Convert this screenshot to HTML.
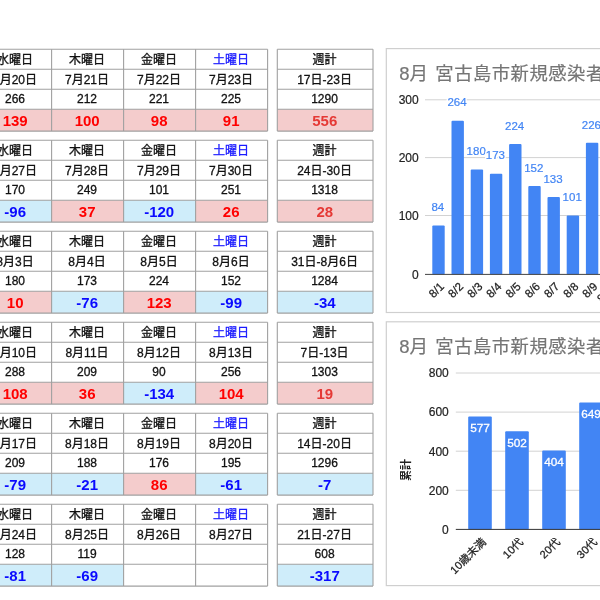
<!DOCTYPE html>
<html lang="ja"><head><meta charset="utf-8"><title>宮古島市 新規感染者</title>
<style>
html,body{margin:0;padding:0;background:#fff;}
body{width:600px;height:600px;overflow:hidden;position:relative;}
svg{filter:blur(0.3px);position:absolute;left:0;top:0;display:block;font-family:"Liberation Sans","Noto Sans CJK JP",sans-serif;}
</style></head><body>
<svg width="600" height="600" viewBox="0 0 600 600">
<rect x="-20.40" y="109.30" width="72.00" height="21.80" fill="#f4cccc"/>
<rect x="51.60" y="109.30" width="72.00" height="21.80" fill="#f4cccc"/>
<rect x="123.60" y="109.30" width="72.00" height="21.80" fill="#f4cccc"/>
<rect x="195.60" y="109.30" width="72.00" height="21.80" fill="#f4cccc"/>
<rect x="277.30" y="109.30" width="95.70" height="21.80" fill="#f4cccc"/>
<line x1="-20.40" y1="49.30" x2="267.60" y2="49.30" stroke="#a0a0a0" stroke-width="1.1"/>
<line x1="-20.40" y1="69.30" x2="267.60" y2="69.30" stroke="#a0a0a0" stroke-width="1.1"/>
<line x1="-20.40" y1="89.30" x2="267.60" y2="89.30" stroke="#a0a0a0" stroke-width="1.1"/>
<line x1="-20.40" y1="109.30" x2="267.60" y2="109.30" stroke="#a0a0a0" stroke-width="1.1"/>
<line x1="-20.40" y1="131.10" x2="267.60" y2="131.10" stroke="#a0a0a0" stroke-width="1.1"/>
<line x1="-20.40" y1="49.30" x2="-20.40" y2="131.10" stroke="#a0a0a0" stroke-width="1.1"/>
<line x1="51.60" y1="49.30" x2="51.60" y2="131.10" stroke="#a0a0a0" stroke-width="1.1"/>
<line x1="123.60" y1="49.30" x2="123.60" y2="131.10" stroke="#a0a0a0" stroke-width="1.1"/>
<line x1="195.60" y1="49.30" x2="195.60" y2="131.10" stroke="#a0a0a0" stroke-width="1.1"/>
<line x1="267.60" y1="49.30" x2="267.60" y2="131.10" stroke="#a0a0a0" stroke-width="1.1"/>
<line x1="277.30" y1="49.30" x2="373.00" y2="49.30" stroke="#a0a0a0" stroke-width="1.1"/>
<line x1="277.30" y1="69.30" x2="373.00" y2="69.30" stroke="#a0a0a0" stroke-width="1.1"/>
<line x1="277.30" y1="89.30" x2="373.00" y2="89.30" stroke="#a0a0a0" stroke-width="1.1"/>
<line x1="277.30" y1="109.30" x2="373.00" y2="109.30" stroke="#a0a0a0" stroke-width="1.1"/>
<line x1="277.30" y1="131.10" x2="373.00" y2="131.10" stroke="#a0a0a0" stroke-width="1.1"/>
<line x1="277.30" y1="49.30" x2="277.30" y2="131.10" stroke="#a0a0a0" stroke-width="1.1"/>
<line x1="373.00" y1="49.30" x2="373.00" y2="131.10" stroke="#a0a0a0" stroke-width="1.1"/>
<text x="15.00" y="63.90" font-size="12" fill="#111" stroke="#111" stroke-width="0.3" text-anchor="middle">水曜日</text>
<text x="15.00" y="83.80" font-size="12" fill="#111" stroke="#111" stroke-width="0.3" text-anchor="middle">7月20日</text>
<text x="15.00" y="103.40" font-size="12" fill="#111" stroke="#111" stroke-width="0.3" text-anchor="middle">266</text>
<text x="15.20" y="125.90" font-size="15" fill="#ff0000" font-weight="bold" text-anchor="middle">139</text>
<text x="87.00" y="63.90" font-size="12" fill="#111" stroke="#111" stroke-width="0.3" text-anchor="middle">木曜日</text>
<text x="87.00" y="83.80" font-size="12" fill="#111" stroke="#111" stroke-width="0.3" text-anchor="middle">7月21日</text>
<text x="87.00" y="103.40" font-size="12" fill="#111" stroke="#111" stroke-width="0.3" text-anchor="middle">212</text>
<text x="87.20" y="125.90" font-size="15" fill="#ff0000" font-weight="bold" text-anchor="middle">100</text>
<text x="159.00" y="63.90" font-size="12" fill="#111" stroke="#111" stroke-width="0.3" text-anchor="middle">金曜日</text>
<text x="159.00" y="83.80" font-size="12" fill="#111" stroke="#111" stroke-width="0.3" text-anchor="middle">7月22日</text>
<text x="159.00" y="103.40" font-size="12" fill="#111" stroke="#111" stroke-width="0.3" text-anchor="middle">221</text>
<text x="159.20" y="125.90" font-size="15" fill="#ff0000" font-weight="bold" text-anchor="middle">98</text>
<text x="231.00" y="63.90" font-size="12" fill="#1a1aff" stroke="#1a1aff" stroke-width="0.3" text-anchor="middle">土曜日</text>
<text x="231.00" y="83.80" font-size="12" fill="#111" stroke="#111" stroke-width="0.3" text-anchor="middle">7月23日</text>
<text x="231.00" y="103.40" font-size="12" fill="#111" stroke="#111" stroke-width="0.3" text-anchor="middle">225</text>
<text x="231.20" y="125.90" font-size="15" fill="#ff0000" font-weight="bold" text-anchor="middle">91</text>
<text x="324.55" y="63.90" font-size="12" fill="#111" stroke="#111" stroke-width="0.3" text-anchor="middle">週計</text>
<text x="324.55" y="83.80" font-size="12" fill="#111" stroke="#111" stroke-width="0.3" text-anchor="middle">17日-23日</text>
<text x="324.55" y="103.40" font-size="12" fill="#111" stroke="#111" stroke-width="0.3" text-anchor="middle">1290</text>
<text x="324.75" y="125.90" font-size="15" fill="#e53935" font-weight="bold" text-anchor="middle">556</text>
<rect x="-20.40" y="200.30" width="72.00" height="21.80" fill="#cfedfa"/>
<rect x="51.60" y="200.30" width="72.00" height="21.80" fill="#f4cccc"/>
<rect x="123.60" y="200.30" width="72.00" height="21.80" fill="#cfedfa"/>
<rect x="195.60" y="200.30" width="72.00" height="21.80" fill="#f4cccc"/>
<rect x="277.30" y="200.30" width="95.70" height="21.80" fill="#f4cccc"/>
<line x1="-20.40" y1="140.30" x2="267.60" y2="140.30" stroke="#a0a0a0" stroke-width="1.1"/>
<line x1="-20.40" y1="160.30" x2="267.60" y2="160.30" stroke="#a0a0a0" stroke-width="1.1"/>
<line x1="-20.40" y1="180.30" x2="267.60" y2="180.30" stroke="#a0a0a0" stroke-width="1.1"/>
<line x1="-20.40" y1="200.30" x2="267.60" y2="200.30" stroke="#a0a0a0" stroke-width="1.1"/>
<line x1="-20.40" y1="222.10" x2="267.60" y2="222.10" stroke="#a0a0a0" stroke-width="1.1"/>
<line x1="-20.40" y1="140.30" x2="-20.40" y2="222.10" stroke="#a0a0a0" stroke-width="1.1"/>
<line x1="51.60" y1="140.30" x2="51.60" y2="222.10" stroke="#a0a0a0" stroke-width="1.1"/>
<line x1="123.60" y1="140.30" x2="123.60" y2="222.10" stroke="#a0a0a0" stroke-width="1.1"/>
<line x1="195.60" y1="140.30" x2="195.60" y2="222.10" stroke="#a0a0a0" stroke-width="1.1"/>
<line x1="267.60" y1="140.30" x2="267.60" y2="222.10" stroke="#a0a0a0" stroke-width="1.1"/>
<line x1="277.30" y1="140.30" x2="373.00" y2="140.30" stroke="#a0a0a0" stroke-width="1.1"/>
<line x1="277.30" y1="160.30" x2="373.00" y2="160.30" stroke="#a0a0a0" stroke-width="1.1"/>
<line x1="277.30" y1="180.30" x2="373.00" y2="180.30" stroke="#a0a0a0" stroke-width="1.1"/>
<line x1="277.30" y1="200.30" x2="373.00" y2="200.30" stroke="#a0a0a0" stroke-width="1.1"/>
<line x1="277.30" y1="222.10" x2="373.00" y2="222.10" stroke="#a0a0a0" stroke-width="1.1"/>
<line x1="277.30" y1="140.30" x2="277.30" y2="222.10" stroke="#a0a0a0" stroke-width="1.1"/>
<line x1="373.00" y1="140.30" x2="373.00" y2="222.10" stroke="#a0a0a0" stroke-width="1.1"/>
<text x="15.00" y="154.90" font-size="12" fill="#111" stroke="#111" stroke-width="0.3" text-anchor="middle">水曜日</text>
<text x="15.00" y="174.80" font-size="12" fill="#111" stroke="#111" stroke-width="0.3" text-anchor="middle">7月27日</text>
<text x="15.00" y="194.40" font-size="12" fill="#111" stroke="#111" stroke-width="0.3" text-anchor="middle">170</text>
<text x="15.20" y="216.90" font-size="15" fill="#0a0aff" font-weight="bold" text-anchor="middle">-96</text>
<text x="87.00" y="154.90" font-size="12" fill="#111" stroke="#111" stroke-width="0.3" text-anchor="middle">木曜日</text>
<text x="87.00" y="174.80" font-size="12" fill="#111" stroke="#111" stroke-width="0.3" text-anchor="middle">7月28日</text>
<text x="87.00" y="194.40" font-size="12" fill="#111" stroke="#111" stroke-width="0.3" text-anchor="middle">249</text>
<text x="87.20" y="216.90" font-size="15" fill="#ff0000" font-weight="bold" text-anchor="middle">37</text>
<text x="159.00" y="154.90" font-size="12" fill="#111" stroke="#111" stroke-width="0.3" text-anchor="middle">金曜日</text>
<text x="159.00" y="174.80" font-size="12" fill="#111" stroke="#111" stroke-width="0.3" text-anchor="middle">7月29日</text>
<text x="159.00" y="194.40" font-size="12" fill="#111" stroke="#111" stroke-width="0.3" text-anchor="middle">101</text>
<text x="159.20" y="216.90" font-size="15" fill="#0a0aff" font-weight="bold" text-anchor="middle">-120</text>
<text x="231.00" y="154.90" font-size="12" fill="#1a1aff" stroke="#1a1aff" stroke-width="0.3" text-anchor="middle">土曜日</text>
<text x="231.00" y="174.80" font-size="12" fill="#111" stroke="#111" stroke-width="0.3" text-anchor="middle">7月30日</text>
<text x="231.00" y="194.40" font-size="12" fill="#111" stroke="#111" stroke-width="0.3" text-anchor="middle">251</text>
<text x="231.20" y="216.90" font-size="15" fill="#ff0000" font-weight="bold" text-anchor="middle">26</text>
<text x="324.55" y="154.90" font-size="12" fill="#111" stroke="#111" stroke-width="0.3" text-anchor="middle">週計</text>
<text x="324.55" y="174.80" font-size="12" fill="#111" stroke="#111" stroke-width="0.3" text-anchor="middle">24日-30日</text>
<text x="324.55" y="194.40" font-size="12" fill="#111" stroke="#111" stroke-width="0.3" text-anchor="middle">1318</text>
<text x="324.75" y="216.90" font-size="15" fill="#e53935" font-weight="bold" text-anchor="middle">28</text>
<rect x="-20.40" y="291.30" width="72.00" height="21.80" fill="#f4cccc"/>
<rect x="51.60" y="291.30" width="72.00" height="21.80" fill="#cfedfa"/>
<rect x="123.60" y="291.30" width="72.00" height="21.80" fill="#f4cccc"/>
<rect x="195.60" y="291.30" width="72.00" height="21.80" fill="#cfedfa"/>
<rect x="277.30" y="291.30" width="95.70" height="21.80" fill="#cfedfa"/>
<line x1="-20.40" y1="231.30" x2="267.60" y2="231.30" stroke="#a0a0a0" stroke-width="1.1"/>
<line x1="-20.40" y1="251.30" x2="267.60" y2="251.30" stroke="#a0a0a0" stroke-width="1.1"/>
<line x1="-20.40" y1="271.30" x2="267.60" y2="271.30" stroke="#a0a0a0" stroke-width="1.1"/>
<line x1="-20.40" y1="291.30" x2="267.60" y2="291.30" stroke="#a0a0a0" stroke-width="1.1"/>
<line x1="-20.40" y1="313.10" x2="267.60" y2="313.10" stroke="#a0a0a0" stroke-width="1.1"/>
<line x1="-20.40" y1="231.30" x2="-20.40" y2="313.10" stroke="#a0a0a0" stroke-width="1.1"/>
<line x1="51.60" y1="231.30" x2="51.60" y2="313.10" stroke="#a0a0a0" stroke-width="1.1"/>
<line x1="123.60" y1="231.30" x2="123.60" y2="313.10" stroke="#a0a0a0" stroke-width="1.1"/>
<line x1="195.60" y1="231.30" x2="195.60" y2="313.10" stroke="#a0a0a0" stroke-width="1.1"/>
<line x1="267.60" y1="231.30" x2="267.60" y2="313.10" stroke="#a0a0a0" stroke-width="1.1"/>
<line x1="277.30" y1="231.30" x2="373.00" y2="231.30" stroke="#a0a0a0" stroke-width="1.1"/>
<line x1="277.30" y1="251.30" x2="373.00" y2="251.30" stroke="#a0a0a0" stroke-width="1.1"/>
<line x1="277.30" y1="271.30" x2="373.00" y2="271.30" stroke="#a0a0a0" stroke-width="1.1"/>
<line x1="277.30" y1="291.30" x2="373.00" y2="291.30" stroke="#a0a0a0" stroke-width="1.1"/>
<line x1="277.30" y1="313.10" x2="373.00" y2="313.10" stroke="#a0a0a0" stroke-width="1.1"/>
<line x1="277.30" y1="231.30" x2="277.30" y2="313.10" stroke="#a0a0a0" stroke-width="1.1"/>
<line x1="373.00" y1="231.30" x2="373.00" y2="313.10" stroke="#a0a0a0" stroke-width="1.1"/>
<text x="15.00" y="245.90" font-size="12" fill="#111" stroke="#111" stroke-width="0.3" text-anchor="middle">水曜日</text>
<text x="15.00" y="265.80" font-size="12" fill="#111" stroke="#111" stroke-width="0.3" text-anchor="middle">8月3日</text>
<text x="15.00" y="285.40" font-size="12" fill="#111" stroke="#111" stroke-width="0.3" text-anchor="middle">180</text>
<text x="15.20" y="307.90" font-size="15" fill="#ff0000" font-weight="bold" text-anchor="middle">10</text>
<text x="87.00" y="245.90" font-size="12" fill="#111" stroke="#111" stroke-width="0.3" text-anchor="middle">木曜日</text>
<text x="87.00" y="265.80" font-size="12" fill="#111" stroke="#111" stroke-width="0.3" text-anchor="middle">8月4日</text>
<text x="87.00" y="285.40" font-size="12" fill="#111" stroke="#111" stroke-width="0.3" text-anchor="middle">173</text>
<text x="87.20" y="307.90" font-size="15" fill="#0a0aff" font-weight="bold" text-anchor="middle">-76</text>
<text x="159.00" y="245.90" font-size="12" fill="#111" stroke="#111" stroke-width="0.3" text-anchor="middle">金曜日</text>
<text x="159.00" y="265.80" font-size="12" fill="#111" stroke="#111" stroke-width="0.3" text-anchor="middle">8月5日</text>
<text x="159.00" y="285.40" font-size="12" fill="#111" stroke="#111" stroke-width="0.3" text-anchor="middle">224</text>
<text x="159.20" y="307.90" font-size="15" fill="#ff0000" font-weight="bold" text-anchor="middle">123</text>
<text x="231.00" y="245.90" font-size="12" fill="#1a1aff" stroke="#1a1aff" stroke-width="0.3" text-anchor="middle">土曜日</text>
<text x="231.00" y="265.80" font-size="12" fill="#111" stroke="#111" stroke-width="0.3" text-anchor="middle">8月6日</text>
<text x="231.00" y="285.40" font-size="12" fill="#111" stroke="#111" stroke-width="0.3" text-anchor="middle">152</text>
<text x="231.20" y="307.90" font-size="15" fill="#0a0aff" font-weight="bold" text-anchor="middle">-99</text>
<text x="324.55" y="245.90" font-size="12" fill="#111" stroke="#111" stroke-width="0.3" text-anchor="middle">週計</text>
<text x="324.55" y="265.80" font-size="12" fill="#111" stroke="#111" stroke-width="0.3" text-anchor="middle">31日-8月6日</text>
<text x="324.55" y="285.40" font-size="12" fill="#111" stroke="#111" stroke-width="0.3" text-anchor="middle">1284</text>
<text x="324.75" y="307.90" font-size="15" fill="#0a0aff" font-weight="bold" text-anchor="middle">-34</text>
<rect x="-20.40" y="382.30" width="72.00" height="21.80" fill="#f4cccc"/>
<rect x="51.60" y="382.30" width="72.00" height="21.80" fill="#f4cccc"/>
<rect x="123.60" y="382.30" width="72.00" height="21.80" fill="#cfedfa"/>
<rect x="195.60" y="382.30" width="72.00" height="21.80" fill="#f4cccc"/>
<rect x="277.30" y="382.30" width="95.70" height="21.80" fill="#f4cccc"/>
<line x1="-20.40" y1="322.30" x2="267.60" y2="322.30" stroke="#a0a0a0" stroke-width="1.1"/>
<line x1="-20.40" y1="342.30" x2="267.60" y2="342.30" stroke="#a0a0a0" stroke-width="1.1"/>
<line x1="-20.40" y1="362.30" x2="267.60" y2="362.30" stroke="#a0a0a0" stroke-width="1.1"/>
<line x1="-20.40" y1="382.30" x2="267.60" y2="382.30" stroke="#a0a0a0" stroke-width="1.1"/>
<line x1="-20.40" y1="404.10" x2="267.60" y2="404.10" stroke="#a0a0a0" stroke-width="1.1"/>
<line x1="-20.40" y1="322.30" x2="-20.40" y2="404.10" stroke="#a0a0a0" stroke-width="1.1"/>
<line x1="51.60" y1="322.30" x2="51.60" y2="404.10" stroke="#a0a0a0" stroke-width="1.1"/>
<line x1="123.60" y1="322.30" x2="123.60" y2="404.10" stroke="#a0a0a0" stroke-width="1.1"/>
<line x1="195.60" y1="322.30" x2="195.60" y2="404.10" stroke="#a0a0a0" stroke-width="1.1"/>
<line x1="267.60" y1="322.30" x2="267.60" y2="404.10" stroke="#a0a0a0" stroke-width="1.1"/>
<line x1="277.30" y1="322.30" x2="373.00" y2="322.30" stroke="#a0a0a0" stroke-width="1.1"/>
<line x1="277.30" y1="342.30" x2="373.00" y2="342.30" stroke="#a0a0a0" stroke-width="1.1"/>
<line x1="277.30" y1="362.30" x2="373.00" y2="362.30" stroke="#a0a0a0" stroke-width="1.1"/>
<line x1="277.30" y1="382.30" x2="373.00" y2="382.30" stroke="#a0a0a0" stroke-width="1.1"/>
<line x1="277.30" y1="404.10" x2="373.00" y2="404.10" stroke="#a0a0a0" stroke-width="1.1"/>
<line x1="277.30" y1="322.30" x2="277.30" y2="404.10" stroke="#a0a0a0" stroke-width="1.1"/>
<line x1="373.00" y1="322.30" x2="373.00" y2="404.10" stroke="#a0a0a0" stroke-width="1.1"/>
<text x="15.00" y="336.90" font-size="12" fill="#111" stroke="#111" stroke-width="0.3" text-anchor="middle">水曜日</text>
<text x="15.00" y="356.80" font-size="12" fill="#111" stroke="#111" stroke-width="0.3" text-anchor="middle">8月10日</text>
<text x="15.00" y="376.40" font-size="12" fill="#111" stroke="#111" stroke-width="0.3" text-anchor="middle">288</text>
<text x="15.20" y="398.90" font-size="15" fill="#ff0000" font-weight="bold" text-anchor="middle">108</text>
<text x="87.00" y="336.90" font-size="12" fill="#111" stroke="#111" stroke-width="0.3" text-anchor="middle">木曜日</text>
<text x="87.00" y="356.80" font-size="12" fill="#111" stroke="#111" stroke-width="0.3" text-anchor="middle">8月11日</text>
<text x="87.00" y="376.40" font-size="12" fill="#111" stroke="#111" stroke-width="0.3" text-anchor="middle">209</text>
<text x="87.20" y="398.90" font-size="15" fill="#ff0000" font-weight="bold" text-anchor="middle">36</text>
<text x="159.00" y="336.90" font-size="12" fill="#111" stroke="#111" stroke-width="0.3" text-anchor="middle">金曜日</text>
<text x="159.00" y="356.80" font-size="12" fill="#111" stroke="#111" stroke-width="0.3" text-anchor="middle">8月12日</text>
<text x="159.00" y="376.40" font-size="12" fill="#111" stroke="#111" stroke-width="0.3" text-anchor="middle">90</text>
<text x="159.20" y="398.90" font-size="15" fill="#0a0aff" font-weight="bold" text-anchor="middle">-134</text>
<text x="231.00" y="336.90" font-size="12" fill="#1a1aff" stroke="#1a1aff" stroke-width="0.3" text-anchor="middle">土曜日</text>
<text x="231.00" y="356.80" font-size="12" fill="#111" stroke="#111" stroke-width="0.3" text-anchor="middle">8月13日</text>
<text x="231.00" y="376.40" font-size="12" fill="#111" stroke="#111" stroke-width="0.3" text-anchor="middle">256</text>
<text x="231.20" y="398.90" font-size="15" fill="#ff0000" font-weight="bold" text-anchor="middle">104</text>
<text x="324.55" y="336.90" font-size="12" fill="#111" stroke="#111" stroke-width="0.3" text-anchor="middle">週計</text>
<text x="324.55" y="356.80" font-size="12" fill="#111" stroke="#111" stroke-width="0.3" text-anchor="middle">7日-13日</text>
<text x="324.55" y="376.40" font-size="12" fill="#111" stroke="#111" stroke-width="0.3" text-anchor="middle">1303</text>
<text x="324.75" y="398.90" font-size="15" fill="#e53935" font-weight="bold" text-anchor="middle">19</text>
<rect x="-20.40" y="473.30" width="72.00" height="21.80" fill="#cfedfa"/>
<rect x="51.60" y="473.30" width="72.00" height="21.80" fill="#cfedfa"/>
<rect x="123.60" y="473.30" width="72.00" height="21.80" fill="#f4cccc"/>
<rect x="195.60" y="473.30" width="72.00" height="21.80" fill="#cfedfa"/>
<rect x="277.30" y="473.30" width="95.70" height="21.80" fill="#cfedfa"/>
<line x1="-20.40" y1="413.30" x2="267.60" y2="413.30" stroke="#a0a0a0" stroke-width="1.1"/>
<line x1="-20.40" y1="433.30" x2="267.60" y2="433.30" stroke="#a0a0a0" stroke-width="1.1"/>
<line x1="-20.40" y1="453.30" x2="267.60" y2="453.30" stroke="#a0a0a0" stroke-width="1.1"/>
<line x1="-20.40" y1="473.30" x2="267.60" y2="473.30" stroke="#a0a0a0" stroke-width="1.1"/>
<line x1="-20.40" y1="495.10" x2="267.60" y2="495.10" stroke="#a0a0a0" stroke-width="1.1"/>
<line x1="-20.40" y1="413.30" x2="-20.40" y2="495.10" stroke="#a0a0a0" stroke-width="1.1"/>
<line x1="51.60" y1="413.30" x2="51.60" y2="495.10" stroke="#a0a0a0" stroke-width="1.1"/>
<line x1="123.60" y1="413.30" x2="123.60" y2="495.10" stroke="#a0a0a0" stroke-width="1.1"/>
<line x1="195.60" y1="413.30" x2="195.60" y2="495.10" stroke="#a0a0a0" stroke-width="1.1"/>
<line x1="267.60" y1="413.30" x2="267.60" y2="495.10" stroke="#a0a0a0" stroke-width="1.1"/>
<line x1="277.30" y1="413.30" x2="373.00" y2="413.30" stroke="#a0a0a0" stroke-width="1.1"/>
<line x1="277.30" y1="433.30" x2="373.00" y2="433.30" stroke="#a0a0a0" stroke-width="1.1"/>
<line x1="277.30" y1="453.30" x2="373.00" y2="453.30" stroke="#a0a0a0" stroke-width="1.1"/>
<line x1="277.30" y1="473.30" x2="373.00" y2="473.30" stroke="#a0a0a0" stroke-width="1.1"/>
<line x1="277.30" y1="495.10" x2="373.00" y2="495.10" stroke="#a0a0a0" stroke-width="1.1"/>
<line x1="277.30" y1="413.30" x2="277.30" y2="495.10" stroke="#a0a0a0" stroke-width="1.1"/>
<line x1="373.00" y1="413.30" x2="373.00" y2="495.10" stroke="#a0a0a0" stroke-width="1.1"/>
<text x="15.00" y="427.90" font-size="12" fill="#111" stroke="#111" stroke-width="0.3" text-anchor="middle">水曜日</text>
<text x="15.00" y="447.80" font-size="12" fill="#111" stroke="#111" stroke-width="0.3" text-anchor="middle">8月17日</text>
<text x="15.00" y="467.40" font-size="12" fill="#111" stroke="#111" stroke-width="0.3" text-anchor="middle">209</text>
<text x="15.20" y="489.90" font-size="15" fill="#0a0aff" font-weight="bold" text-anchor="middle">-79</text>
<text x="87.00" y="427.90" font-size="12" fill="#111" stroke="#111" stroke-width="0.3" text-anchor="middle">木曜日</text>
<text x="87.00" y="447.80" font-size="12" fill="#111" stroke="#111" stroke-width="0.3" text-anchor="middle">8月18日</text>
<text x="87.00" y="467.40" font-size="12" fill="#111" stroke="#111" stroke-width="0.3" text-anchor="middle">188</text>
<text x="87.20" y="489.90" font-size="15" fill="#0a0aff" font-weight="bold" text-anchor="middle">-21</text>
<text x="159.00" y="427.90" font-size="12" fill="#111" stroke="#111" stroke-width="0.3" text-anchor="middle">金曜日</text>
<text x="159.00" y="447.80" font-size="12" fill="#111" stroke="#111" stroke-width="0.3" text-anchor="middle">8月19日</text>
<text x="159.00" y="467.40" font-size="12" fill="#111" stroke="#111" stroke-width="0.3" text-anchor="middle">176</text>
<text x="159.20" y="489.90" font-size="15" fill="#ff0000" font-weight="bold" text-anchor="middle">86</text>
<text x="231.00" y="427.90" font-size="12" fill="#1a1aff" stroke="#1a1aff" stroke-width="0.3" text-anchor="middle">土曜日</text>
<text x="231.00" y="447.80" font-size="12" fill="#111" stroke="#111" stroke-width="0.3" text-anchor="middle">8月20日</text>
<text x="231.00" y="467.40" font-size="12" fill="#111" stroke="#111" stroke-width="0.3" text-anchor="middle">195</text>
<text x="231.20" y="489.90" font-size="15" fill="#0a0aff" font-weight="bold" text-anchor="middle">-61</text>
<text x="324.55" y="427.90" font-size="12" fill="#111" stroke="#111" stroke-width="0.3" text-anchor="middle">週計</text>
<text x="324.55" y="447.80" font-size="12" fill="#111" stroke="#111" stroke-width="0.3" text-anchor="middle">14日-20日</text>
<text x="324.55" y="467.40" font-size="12" fill="#111" stroke="#111" stroke-width="0.3" text-anchor="middle">1296</text>
<text x="324.75" y="489.90" font-size="15" fill="#0a0aff" font-weight="bold" text-anchor="middle">-7</text>
<rect x="-20.40" y="564.30" width="72.00" height="21.80" fill="#cfedfa"/>
<rect x="51.60" y="564.30" width="72.00" height="21.80" fill="#cfedfa"/>
<rect x="277.30" y="564.30" width="95.70" height="21.80" fill="#cfedfa"/>
<line x1="-20.40" y1="504.30" x2="267.60" y2="504.30" stroke="#a0a0a0" stroke-width="1.1"/>
<line x1="-20.40" y1="524.30" x2="267.60" y2="524.30" stroke="#a0a0a0" stroke-width="1.1"/>
<line x1="-20.40" y1="544.30" x2="267.60" y2="544.30" stroke="#a0a0a0" stroke-width="1.1"/>
<line x1="-20.40" y1="564.30" x2="267.60" y2="564.30" stroke="#a0a0a0" stroke-width="1.1"/>
<line x1="-20.40" y1="586.10" x2="267.60" y2="586.10" stroke="#a0a0a0" stroke-width="1.1"/>
<line x1="-20.40" y1="504.30" x2="-20.40" y2="586.10" stroke="#a0a0a0" stroke-width="1.1"/>
<line x1="51.60" y1="504.30" x2="51.60" y2="586.10" stroke="#a0a0a0" stroke-width="1.1"/>
<line x1="123.60" y1="504.30" x2="123.60" y2="586.10" stroke="#a0a0a0" stroke-width="1.1"/>
<line x1="195.60" y1="504.30" x2="195.60" y2="586.10" stroke="#a0a0a0" stroke-width="1.1"/>
<line x1="267.60" y1="504.30" x2="267.60" y2="586.10" stroke="#a0a0a0" stroke-width="1.1"/>
<line x1="277.30" y1="504.30" x2="373.00" y2="504.30" stroke="#a0a0a0" stroke-width="1.1"/>
<line x1="277.30" y1="524.30" x2="373.00" y2="524.30" stroke="#a0a0a0" stroke-width="1.1"/>
<line x1="277.30" y1="544.30" x2="373.00" y2="544.30" stroke="#a0a0a0" stroke-width="1.1"/>
<line x1="277.30" y1="564.30" x2="373.00" y2="564.30" stroke="#a0a0a0" stroke-width="1.1"/>
<line x1="277.30" y1="586.10" x2="373.00" y2="586.10" stroke="#a0a0a0" stroke-width="1.1"/>
<line x1="277.30" y1="504.30" x2="277.30" y2="586.10" stroke="#a0a0a0" stroke-width="1.1"/>
<line x1="373.00" y1="504.30" x2="373.00" y2="586.10" stroke="#a0a0a0" stroke-width="1.1"/>
<text x="15.00" y="518.90" font-size="12" fill="#111" stroke="#111" stroke-width="0.3" text-anchor="middle">水曜日</text>
<text x="15.00" y="538.80" font-size="12" fill="#111" stroke="#111" stroke-width="0.3" text-anchor="middle">8月24日</text>
<text x="15.00" y="558.40" font-size="12" fill="#111" stroke="#111" stroke-width="0.3" text-anchor="middle">128</text>
<text x="15.20" y="580.90" font-size="15" fill="#0a0aff" font-weight="bold" text-anchor="middle">-81</text>
<text x="87.00" y="518.90" font-size="12" fill="#111" stroke="#111" stroke-width="0.3" text-anchor="middle">木曜日</text>
<text x="87.00" y="538.80" font-size="12" fill="#111" stroke="#111" stroke-width="0.3" text-anchor="middle">8月25日</text>
<text x="87.00" y="558.40" font-size="12" fill="#111" stroke="#111" stroke-width="0.3" text-anchor="middle">119</text>
<text x="87.20" y="580.90" font-size="15" fill="#0a0aff" font-weight="bold" text-anchor="middle">-69</text>
<text x="159.00" y="518.90" font-size="12" fill="#111" stroke="#111" stroke-width="0.3" text-anchor="middle">金曜日</text>
<text x="159.00" y="538.80" font-size="12" fill="#111" stroke="#111" stroke-width="0.3" text-anchor="middle">8月26日</text>
<text x="231.00" y="518.90" font-size="12" fill="#1a1aff" stroke="#1a1aff" stroke-width="0.3" text-anchor="middle">土曜日</text>
<text x="231.00" y="538.80" font-size="12" fill="#111" stroke="#111" stroke-width="0.3" text-anchor="middle">8月27日</text>
<text x="324.55" y="518.90" font-size="12" fill="#111" stroke="#111" stroke-width="0.3" text-anchor="middle">週計</text>
<text x="324.55" y="538.80" font-size="12" fill="#111" stroke="#111" stroke-width="0.3" text-anchor="middle">21日-27日</text>
<text x="324.55" y="558.40" font-size="12" fill="#111" stroke="#111" stroke-width="0.3" text-anchor="middle">608</text>
<text x="324.75" y="580.90" font-size="15" fill="#0a0aff" font-weight="bold" text-anchor="middle">-317</text>
<rect x="386.3" y="48.60" width="400" height="263.90" fill="#fff" stroke="#cfcfcf" stroke-width="1.2"/>
<rect x="386.3" y="321.80" width="400" height="263.80" fill="#fff" stroke="#cfcfcf" stroke-width="1.2"/>
<text x="399.30" y="80.00" font-size="18.5" fill="#757575" stroke="#757575" stroke-width="0.2" text-anchor="start">8月</text>
<text x="435.30" y="80.00" font-size="18.3" fill="#757575" stroke="#757575" stroke-width="0.2" text-anchor="start" letter-spacing="0.55">宮古島市新規感染者数（日別）</text>
<text x="399.30" y="353.30" font-size="18.5" fill="#757575" stroke="#757575" stroke-width="0.2" text-anchor="start">8月</text>
<text x="435.30" y="353.30" font-size="18.3" fill="#757575" stroke="#757575" stroke-width="0.2" text-anchor="start" letter-spacing="0.55">宮古島市新規感染者数（年代別）</text>
<line x1="425.00" y1="215.50" x2="640.00" y2="215.50" stroke="#d2d2d2" stroke-width="1.0"/>
<line x1="425.00" y1="157.60" x2="640.00" y2="157.60" stroke="#d2d2d2" stroke-width="1.0"/>
<line x1="425.00" y1="99.80" x2="640.00" y2="99.80" stroke="#d2d2d2" stroke-width="1.0"/>
<text x="418.70" y="278.70" font-size="12" fill="#222" stroke="#222" stroke-width="0.2" text-anchor="end">0</text>
<text x="418.70" y="219.80" font-size="12" fill="#222" stroke="#222" stroke-width="0.2" text-anchor="end">100</text>
<text x="418.70" y="161.90" font-size="12" fill="#222" stroke="#222" stroke-width="0.2" text-anchor="end">200</text>
<text x="418.70" y="104.10" font-size="12" fill="#222" stroke="#222" stroke-width="0.2" text-anchor="end">300</text>
<rect x="432.30" y="225.49" width="12.4" height="48.91" fill="#4285f4" rx="1"/>
<text x="437.80" y="211.29" font-size="11.5" fill="#fff" text-anchor="middle" stroke="#fff" stroke-width="3">84</text>
<text x="437.80" y="211.29" font-size="11.5" fill="#4285f4" text-anchor="middle" stroke="#4285f4" stroke-width="0.2">84</text>
<text x="444.80" y="287.30" font-size="11.5" fill="#222" stroke="#222" stroke-width="0.25" text-anchor="end" transform="rotate(-45 444.80 287.30)">8/1</text>
<rect x="451.50" y="120.67" width="12.4" height="153.73" fill="#4285f4" rx="1"/>
<text x="457.00" y="106.47" font-size="11.5" fill="#fff" text-anchor="middle" stroke="#fff" stroke-width="3">264</text>
<text x="457.00" y="106.47" font-size="11.5" fill="#4285f4" text-anchor="middle" stroke="#4285f4" stroke-width="0.2">264</text>
<text x="464.00" y="287.30" font-size="11.5" fill="#222" stroke="#222" stroke-width="0.25" text-anchor="end" transform="rotate(-45 464.00 287.30)">8/2</text>
<rect x="470.70" y="169.59" width="12.4" height="104.81" fill="#4285f4" rx="1"/>
<text x="476.20" y="155.39" font-size="11.5" fill="#fff" text-anchor="middle" stroke="#fff" stroke-width="3">180</text>
<text x="476.20" y="155.39" font-size="11.5" fill="#4285f4" text-anchor="middle" stroke="#4285f4" stroke-width="0.2">180</text>
<text x="483.20" y="287.30" font-size="11.5" fill="#222" stroke="#222" stroke-width="0.25" text-anchor="end" transform="rotate(-45 483.20 287.30)">8/3</text>
<rect x="489.90" y="173.66" width="12.4" height="100.74" fill="#4285f4" rx="1"/>
<text x="495.40" y="159.46" font-size="11.5" fill="#fff" text-anchor="middle" stroke="#fff" stroke-width="3">173</text>
<text x="495.40" y="159.46" font-size="11.5" fill="#4285f4" text-anchor="middle" stroke="#4285f4" stroke-width="0.2">173</text>
<text x="502.40" y="287.30" font-size="11.5" fill="#222" stroke="#222" stroke-width="0.25" text-anchor="end" transform="rotate(-45 502.40 287.30)">8/4</text>
<rect x="509.10" y="143.96" width="12.4" height="130.44" fill="#4285f4" rx="1"/>
<text x="514.60" y="129.76" font-size="11.5" fill="#fff" text-anchor="middle" stroke="#fff" stroke-width="3">224</text>
<text x="514.60" y="129.76" font-size="11.5" fill="#4285f4" text-anchor="middle" stroke="#4285f4" stroke-width="0.2">224</text>
<text x="521.60" y="287.30" font-size="11.5" fill="#222" stroke="#222" stroke-width="0.25" text-anchor="end" transform="rotate(-45 521.60 287.30)">8/5</text>
<rect x="528.30" y="185.89" width="12.4" height="88.51" fill="#4285f4" rx="1"/>
<text x="533.80" y="171.69" font-size="11.5" fill="#fff" text-anchor="middle" stroke="#fff" stroke-width="3">152</text>
<text x="533.80" y="171.69" font-size="11.5" fill="#4285f4" text-anchor="middle" stroke="#4285f4" stroke-width="0.2">152</text>
<text x="540.80" y="287.30" font-size="11.5" fill="#222" stroke="#222" stroke-width="0.25" text-anchor="end" transform="rotate(-45 540.80 287.30)">8/6</text>
<rect x="547.50" y="196.95" width="12.4" height="77.45" fill="#4285f4" rx="1"/>
<text x="553.00" y="182.75" font-size="11.5" fill="#fff" text-anchor="middle" stroke="#fff" stroke-width="3">133</text>
<text x="553.00" y="182.75" font-size="11.5" fill="#4285f4" text-anchor="middle" stroke="#4285f4" stroke-width="0.2">133</text>
<text x="560.00" y="287.30" font-size="11.5" fill="#222" stroke="#222" stroke-width="0.25" text-anchor="end" transform="rotate(-45 560.00 287.30)">8/7</text>
<rect x="566.70" y="215.59" width="12.4" height="58.81" fill="#4285f4" rx="1"/>
<text x="572.20" y="201.39" font-size="11.5" fill="#fff" text-anchor="middle" stroke="#fff" stroke-width="3">101</text>
<text x="572.20" y="201.39" font-size="11.5" fill="#4285f4" text-anchor="middle" stroke="#4285f4" stroke-width="0.2">101</text>
<text x="579.20" y="287.30" font-size="11.5" fill="#222" stroke="#222" stroke-width="0.25" text-anchor="end" transform="rotate(-45 579.20 287.30)">8/8</text>
<rect x="585.90" y="142.80" width="12.4" height="131.60" fill="#4285f4" rx="1"/>
<text x="591.40" y="128.60" font-size="11.5" fill="#fff" text-anchor="middle" stroke="#fff" stroke-width="3">226</text>
<text x="591.40" y="128.60" font-size="11.5" fill="#4285f4" text-anchor="middle" stroke="#4285f4" stroke-width="0.2">226</text>
<text x="598.40" y="287.30" font-size="11.5" fill="#222" stroke="#222" stroke-width="0.25" text-anchor="end" transform="rotate(-45 598.40 287.30)">8/9</text>
<rect x="605.10" y="169.59" width="12.4" height="104.81" fill="#4285f4" rx="1"/>
<text x="610.60" y="155.39" font-size="11.5" fill="#fff" text-anchor="middle" stroke="#fff" stroke-width="3">180</text>
<text x="610.60" y="155.39" font-size="11.5" fill="#4285f4" text-anchor="middle" stroke="#4285f4" stroke-width="0.2">180</text>
<text x="617.60" y="287.30" font-size="11.5" fill="#222" stroke="#222" stroke-width="0.25" text-anchor="end" transform="rotate(-45 617.60 287.30)">8/10</text>
<rect x="624.30" y="187.05" width="12.4" height="87.34" fill="#4285f4" rx="1"/>
<text x="629.80" y="172.85" font-size="11.5" fill="#fff" text-anchor="middle" stroke="#fff" stroke-width="3">150</text>
<text x="629.80" y="172.85" font-size="11.5" fill="#4285f4" text-anchor="middle" stroke="#4285f4" stroke-width="0.2">150</text>
<text x="636.80" y="287.30" font-size="11.5" fill="#222" stroke="#222" stroke-width="0.25" text-anchor="end" transform="rotate(-45 636.80 287.30)">8/11</text>
<line x1="425.00" y1="274.40" x2="640.00" y2="274.40" stroke="#444444" stroke-width="1.0"/>
<line x1="455.80" y1="490.30" x2="640.00" y2="490.30" stroke="#d2d2d2" stroke-width="1.0"/>
<line x1="455.80" y1="451.20" x2="640.00" y2="451.20" stroke="#d2d2d2" stroke-width="1.0"/>
<line x1="455.80" y1="412.10" x2="640.00" y2="412.10" stroke="#d2d2d2" stroke-width="1.0"/>
<line x1="455.80" y1="373.00" x2="640.00" y2="373.00" stroke="#d2d2d2" stroke-width="1.0"/>
<text x="448.80" y="533.70" font-size="12" fill="#222" stroke="#222" stroke-width="0.2" text-anchor="end">0</text>
<text x="448.80" y="494.60" font-size="12" fill="#222" stroke="#222" stroke-width="0.2" text-anchor="end">200</text>
<text x="448.80" y="455.50" font-size="12" fill="#222" stroke="#222" stroke-width="0.2" text-anchor="end">400</text>
<text x="448.80" y="416.40" font-size="12" fill="#222" stroke="#222" stroke-width="0.2" text-anchor="end">600</text>
<text x="448.80" y="377.30" font-size="12" fill="#222" stroke="#222" stroke-width="0.2" text-anchor="end">800</text>
<rect x="468.20" y="416.60" width="23.6" height="112.80" fill="#4285f4" rx="1"/>
<text x="480.00" y="431.90" font-size="11.8" fill="#fff" stroke="#fff" stroke-width="0.3" text-anchor="middle">577</text>
<text x="486.80" y="542.70" font-size="11" fill="#222" stroke="#222" stroke-width="0.25" text-anchor="end" transform="rotate(-45 486.80 542.70)">10歳未満</text>
<rect x="505.20" y="431.26" width="23.6" height="98.14" fill="#4285f4" rx="1"/>
<text x="517.00" y="446.56" font-size="11.8" fill="#fff" stroke="#fff" stroke-width="0.3" text-anchor="middle">502</text>
<text x="523.80" y="542.70" font-size="11" fill="#222" stroke="#222" stroke-width="0.25" text-anchor="end" transform="rotate(-45 523.80 542.70)">10代</text>
<rect x="542.20" y="450.42" width="23.6" height="78.98" fill="#4285f4" rx="1"/>
<text x="554.00" y="465.72" font-size="11.8" fill="#fff" stroke="#fff" stroke-width="0.3" text-anchor="middle">404</text>
<text x="560.80" y="542.70" font-size="11" fill="#222" stroke="#222" stroke-width="0.25" text-anchor="end" transform="rotate(-45 560.80 542.70)">20代</text>
<rect x="579.20" y="402.52" width="23.6" height="126.88" fill="#4285f4" rx="1"/>
<text x="591.00" y="417.82" font-size="11.8" fill="#fff" stroke="#fff" stroke-width="0.3" text-anchor="middle">649</text>
<text x="597.80" y="542.70" font-size="11" fill="#222" stroke="#222" stroke-width="0.25" text-anchor="end" transform="rotate(-45 597.80 542.70)">30代</text>
<rect x="616.20" y="419.92" width="23.6" height="109.48" fill="#4285f4" rx="1"/>
<text x="628.00" y="435.22" font-size="11.8" fill="#fff" stroke="#fff" stroke-width="0.3" text-anchor="middle">560</text>
<text x="634.80" y="542.70" font-size="11" fill="#222" stroke="#222" stroke-width="0.25" text-anchor="end" transform="rotate(-45 634.80 542.70)">40代</text>
<line x1="455.80" y1="529.40" x2="640.00" y2="529.40" stroke="#333333" stroke-width="1.0"/>
<text x="410.00" y="470.00" font-size="11" fill="#222" font-weight="bold" text-anchor="middle" transform="rotate(-90 410 470)">累計</text>
</svg>
</body></html>
